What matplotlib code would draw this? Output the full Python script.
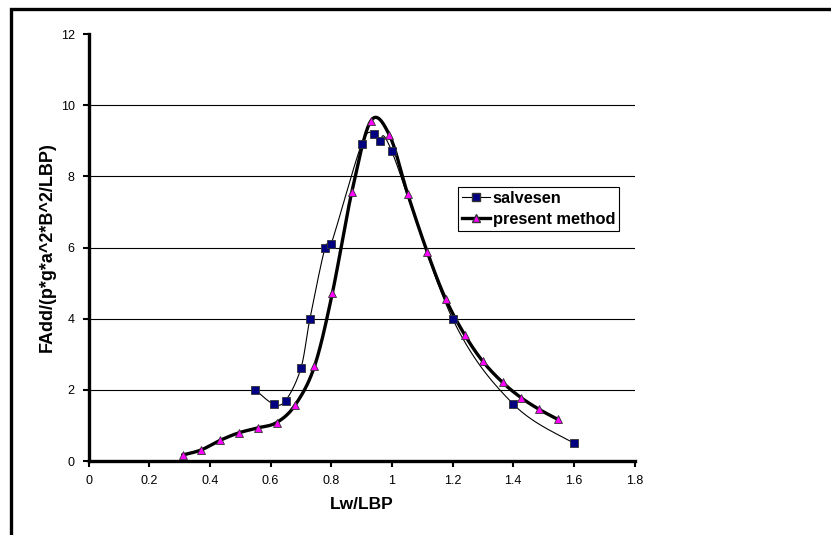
import numpy as np
import matplotlib
matplotlib.use('Agg')
import matplotlib.pyplot as plt
from matplotlib.patches import Rectangle

plt.rcParams['font.family'] = ['Liberation Sans', 'DejaVu Sans']

# data
salvesen_x = [0.55, 0.61, 0.65, 0.70, 0.73, 0.78, 0.80, 0.90, 0.94, 0.96, 1.00, 1.20, 1.40, 1.60]
salvesen_y = [2.0, 1.6, 1.7, 2.6, 4.0, 6.0, 6.1, 8.9, 9.2, 9.0, 8.7, 4.0, 1.6, 0.5]

present_x = [0.311, 0.371, 0.434, 0.495, 0.558, 0.620, 0.681, 0.745, 0.804, 0.868, 0.931,
             0.992, 1.052, 1.117, 1.177, 1.240, 1.300, 1.365, 1.426, 1.486, 1.547]
present_y = [0.17, 0.31, 0.58, 0.79, 0.93, 1.08, 1.57, 2.66, 4.72, 7.56, 9.56,
             9.16, 7.51, 5.87, 4.56, 3.55, 2.80, 2.21, 1.78, 1.45, 1.17]

x_ticks = [0, 0.2, 0.4, 0.6, 0.8, 1, 1.2, 1.4, 1.6, 1.8]
x_tick_labels = ['0', '0.2', '0.4', '0.6', '0.8', '1', '1.2', '1.4', '1.6', '1.8']
y_ticks = [0, 2, 4, 6, 8, 10, 12]
grid_levels = [2, 4, 6, 8, 10]


def smooth(xs, ys, n=30):
    # Excel style smoothed line: Catmull-Rom bezier segments
    p = np.column_stack([xs, ys]).astype(float)
    p = np.vstack([p[0], p, p[-1]])
    t = np.linspace(0, 1, n)[:, None]
    out = []
    for i in range(1, len(p) - 2):
        p0, p1, p2, p3 = p[i - 1], p[i], p[i + 1], p[i + 2]
        c1 = p1 + (p2 - p0) / 6
        c2 = p2 - (p3 - p1) / 6
        seg = ((1 - t) ** 3) * p1 + 3 * ((1 - t) ** 2) * t * c1 + 3 * (1 - t) * t ** 2 * c2 + t ** 3 * p2
        out.append(seg if i == 1 else seg[1:])
    out = np.vstack(out)
    return out[:, 0], out[:, 1]


fig = plt.figure(figsize=(8.31, 5.35), dpi=100)
ax = fig.add_axes([88.5 / 831, 74 / 535, 546 / 831, 427 / 535])

# outer frame
fig.patches.append(Rectangle((11 / 831, -0.2), 2, 1.2 - 9 / 535, transform=fig.transFigure,
                             fill=False, edgecolor='black', linewidth=2.4, clip_on=False))

for g in grid_levels:
    ax.axhline(g, color='black', linewidth=0.8, zorder=1)

sx, sy = smooth(salvesen_x, salvesen_y)
ax.plot(sx, sy, color='black', linewidth=0.8, zorder=2)
ax.plot(salvesen_x, salvesen_y, linestyle='none', marker='s', markersize=6.2,
        markerfacecolor='#000080', markeredgecolor='#333333', markeredgewidth=0.6, zorder=4)

px, py = smooth(present_x, present_y)
ax.plot(px, py, color='black', linewidth=2.4, zorder=3)
ax.plot(present_x, present_y, linestyle='none', marker='^', markersize=5.5,
        markerfacecolor='#FF00FF', markeredgecolor='#333333', markeredgewidth=0.6, zorder=5)

# legend proxies
ax.plot([], [], color='black', linewidth=0.8, marker='s', markersize=6,
        markerfacecolor='#000080', markeredgecolor='#333333', label='salvesen')
ax.plot([], [], color='black', linewidth=2.4, marker='^', markersize=5.5,
        markerfacecolor='#FF00FF', markeredgecolor='#333333', label='present method')
leg = ax.legend(loc='upper left', bbox_to_anchor=(0.676, 0.642), fancybox=False, framealpha=1,
                edgecolor='black', prop={'weight': 'bold', 'size': 11.8}, handlelength=1.7,
                handletextpad=0.2, borderpad=0.25, labelspacing=0.35, borderaxespad=0)
leg.get_frame().set_linewidth(0.8)

ax.set_xlim(0, 1.8)
ax.set_ylim(0, 12)
ax.set_xticks(x_ticks)
ax.set_xticklabels(x_tick_labels)
ax.set_yticks(y_ticks)
ax.tick_params(axis='both', direction='out', length=4, width=1.5, labelsize=9, pad=6)

for s in ['top', 'right']:
    ax.spines[s].set_visible(False)
for s in ['left', 'bottom']:
    ax.spines[s].set_linewidth(2.4)

ax.set_xlabel('Lw/LBP', fontsize=12.5, fontweight='bold')
ax.xaxis.set_label_coords(0.5, -0.103)
ax.xaxis.label.set_va('center')
ax.set_ylabel('FAdd/(p*g*a^2*B^2/LBP)', fontsize=13, fontweight='bold')
ax.yaxis.set_label_coords(-0.076, 0.5)
ax.yaxis.label.set_va('center')

plt.savefig('out.png', dpi=100)
